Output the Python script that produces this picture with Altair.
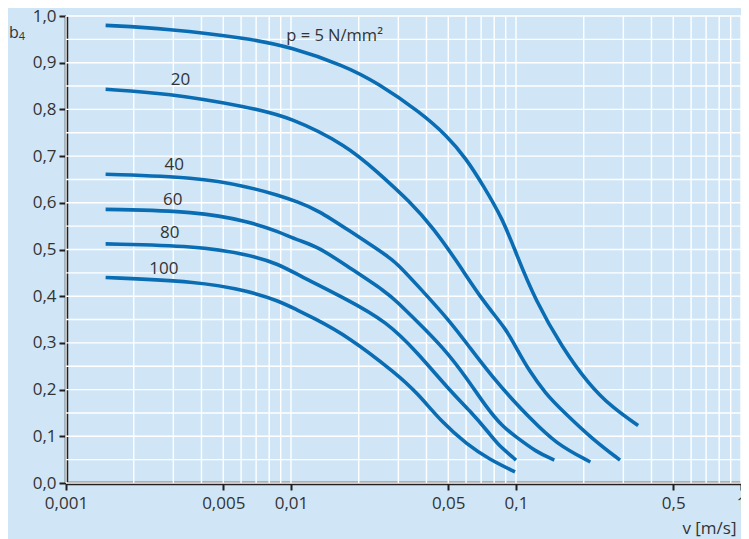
import altair as alt
import pandas as pd

# ---------------- data ----------------
P_VALUES = [5, 20, 40, 60, 80, 100]

V_P5 = [0.0015, 0.0028, 0.0065, 0.0100, 0.0172, 0.0242, 0.0375, 0.0492, 0.0602, 0.0713, 0.0874, 0.1000, 0.1225, 0.1606, 0.2100, 0.2670, 0.3490]
B_P5 = [0.980, 0.973, 0.952, 0.933, 0.894, 0.857, 0.794, 0.744, 0.694, 0.638, 0.565, 0.492, 0.389, 0.290, 0.212, 0.162, 0.123]

V_P20 = [0.0015, 0.0028, 0.0065, 0.0100, 0.0178, 0.0242, 0.0339, 0.0430, 0.0544, 0.0713, 0.0904, 0.1000, 0.1145, 0.1356, 0.1606, 0.2173, 0.2900]
B_P20 = [0.843, 0.835, 0.805, 0.783, 0.722, 0.666, 0.602, 0.545, 0.476, 0.389, 0.330, 0.290, 0.240, 0.191, 0.155, 0.095, 0.049]

V_P40 = [0.0015, 0.0038, 0.0065, 0.0088, 0.0107, 0.0132, 0.0178, 0.0267, 0.0296, 0.0362, 0.0508, 0.0623, 0.0789, 0.1000, 0.1145, 0.1500, 0.2140]
B_P40 = [0.661, 0.655, 0.634, 0.616, 0.602, 0.584, 0.543, 0.487, 0.470, 0.425, 0.347, 0.290, 0.226, 0.170, 0.141, 0.084, 0.045]

V_P60 = [0.0015, 0.0038, 0.0065, 0.0088, 0.0107, 0.0132, 0.0178, 0.0267, 0.0296, 0.0362, 0.0475, 0.0602, 0.0738, 0.0874, 0.1000, 0.1225, 0.1480]
B_P60 = [0.586, 0.582, 0.560, 0.538, 0.520, 0.506, 0.464, 0.408, 0.388, 0.347, 0.290, 0.226, 0.162, 0.120, 0.099, 0.067, 0.049]

V_P80 = [0.0015, 0.0038, 0.0065, 0.0088, 0.0107, 0.0178, 0.0267, 0.0362, 0.0508, 0.0623, 0.0763, 0.0817, 0.1000]
B_P80 = [0.512, 0.508, 0.489, 0.469, 0.446, 0.393, 0.345, 0.281, 0.198, 0.155, 0.106, 0.086, 0.049]

V_P100 = [0.0015, 0.0038, 0.0065, 0.0088, 0.0107, 0.0124, 0.0178, 0.0296, 0.0362, 0.0475, 0.0602, 0.0763, 0.0990]
B_P100 = [0.440, 0.432, 0.411, 0.390, 0.370, 0.355, 0.315, 0.233, 0.194, 0.127, 0.084, 0.050, 0.024]

LABEL_TEXT = ["p = 5 N/mm²", "20", "40", "60", "80", "100"]
LABEL_V = [0.00953, 0.00323, 0.00303, 0.00298, 0.00289, 0.00272]
LABEL_B = [0.957, 0.862, 0.682, 0.606, 0.535, 0.4585]
LABEL_ALIGN = ["left", "center", "center", "center", "center", "center"]

X_TICKS = [0.001, 0.005, 0.01, 0.05, 0.1, 0.5, 1]
X_GRID = [m * d for d in [0.001, 0.01, 0.1] for m in range(1, 10)] + [1]
Y_TICKS = [i / 10 for i in range(11)]
Y_GRID = [i / 20 for i in range(21)]

# ---------------- tables ----------------
rows = []
for p, vs, bs in zip(P_VALUES, [V_P5, V_P20, V_P40, V_P60, V_P80, V_P100],
                     [B_P5, B_P20, B_P40, B_P60, B_P80, B_P100]):
    for v, b in zip(vs, bs):
        rows.append({"p": p, "v": v, "b4": b})
curves = pd.DataFrame(rows)
labels = pd.DataFrame({"t": LABEL_TEXT, "v": LABEL_V, "b4": LABEL_B, "al": LABEL_ALIGN})

# ---------------- style ----------------
BG = "#d0e6f6"
LINE = "#0a6db3"
AXIS = "#231f20"
TEXT = "#333333"
FONT = "Open Sans"

xs = alt.Scale(type="log", domain=[0.001, 1])
ys = alt.Scale(domain=[0, 1])

X_AXIS = alt.Axis(values=X_TICKS, grid=False,
                  labelExpr="replace(format(datum.value, '~g'), '.', ',')",
                  tickSize=7, tickWidth=2, tickColor=AXIS,
                  domainColor=AXIS, domainWidth=3.5,
                  labelFont=FONT, labelFontSize=17, labelColor=TEXT, labelPadding=5,
                  labelFlush=False, labelOverlap=False,
                  title="v [m/s]", titleFont=FONT, titleFontSize=17, titleFontWeight="normal",
                  titleColor=TEXT, titleAnchor="end", titleAlign="right",
                  titleX=670, titleY=50, titleBaseline="alphabetic")
Y_AXIS = alt.Axis(values=Y_TICKS, grid=False,
                  labelExpr="replace(format(datum.value, '.1f'), '.', ',')",
                  tickSize=7, tickWidth=2, tickColor=AXIS,
                  domainColor=AXIS, domainWidth=3.5,
                  labelFont=FONT, labelFontSize=17, labelColor=TEXT, labelPadding=3,
                  labelFlush=False, labelOverlap=False, title=None)

vgrid = alt.Chart(pd.DataFrame({"v": X_GRID})).mark_rule(color="white", strokeWidth=1.4).encode(
    x=alt.X("v:Q", scale=xs, axis=X_AXIS)
)
hgrid = alt.Chart(pd.DataFrame({"b4": Y_GRID})).mark_rule(color="white", strokeWidth=1.4).encode(
    y=alt.Y("b4:Q", scale=ys, axis=Y_AXIS)
)

lines = alt.Chart(curves).mark_line(color=LINE, strokeWidth=3.6, interpolate="basis",
                                    strokeCap="butt").encode(
    x=alt.X("v:Q", scale=xs, axis=X_AXIS),
    y=alt.Y("b4:Q", scale=ys, axis=Y_AXIS),
    detail="p:N",
    order="v:Q",
)

text_center = alt.Chart(labels[labels.al == "center"]).mark_text(
    font=FONT, fontSize=17, color=TEXT, align="center", baseline="middle"
).encode(x=alt.X("v:Q", scale=xs, axis=X_AXIS), y=alt.Y("b4:Q", scale=ys, axis=Y_AXIS), text="t:N")

text_left = alt.Chart(labels[labels.al == "left"]).mark_text(
    font=FONT, fontSize=16.5, color=TEXT, align="left", baseline="middle"
).encode(x=alt.X("v:Q", scale=xs, axis=X_AXIS), y=alt.Y("b4:Q", scale=ys, axis=Y_AXIS), text="t:N")

ytitle_b = alt.Chart(pd.DataFrame({"t": ["b"]})).mark_text(
    font=FONT, fontSize=16, color=TEXT, align="center", baseline="alphabetic"
).encode(x=alt.value(-52), y=alt.value(22), text="t:N")
ytitle_4 = alt.Chart(pd.DataFrame({"t": ["4"]})).mark_text(
    font=FONT, fontSize=11, color=TEXT, align="center", baseline="alphabetic"
).encode(x=alt.value(-44), y=alt.value(24), text="t:N")

chart = alt.layer(vgrid, hgrid, lines, text_center, text_left, ytitle_b, ytitle_4).properties(
    width=675, height=467,
    autosize=alt.AutoSizeParams(type="none"),
    padding={"left": 58, "top": 8, "right": 0, "bottom": 56},
    background=BG,
).configure_view(stroke=None)

chart.save("out.html", embed_options={"renderer": "svg", "actions": False})
